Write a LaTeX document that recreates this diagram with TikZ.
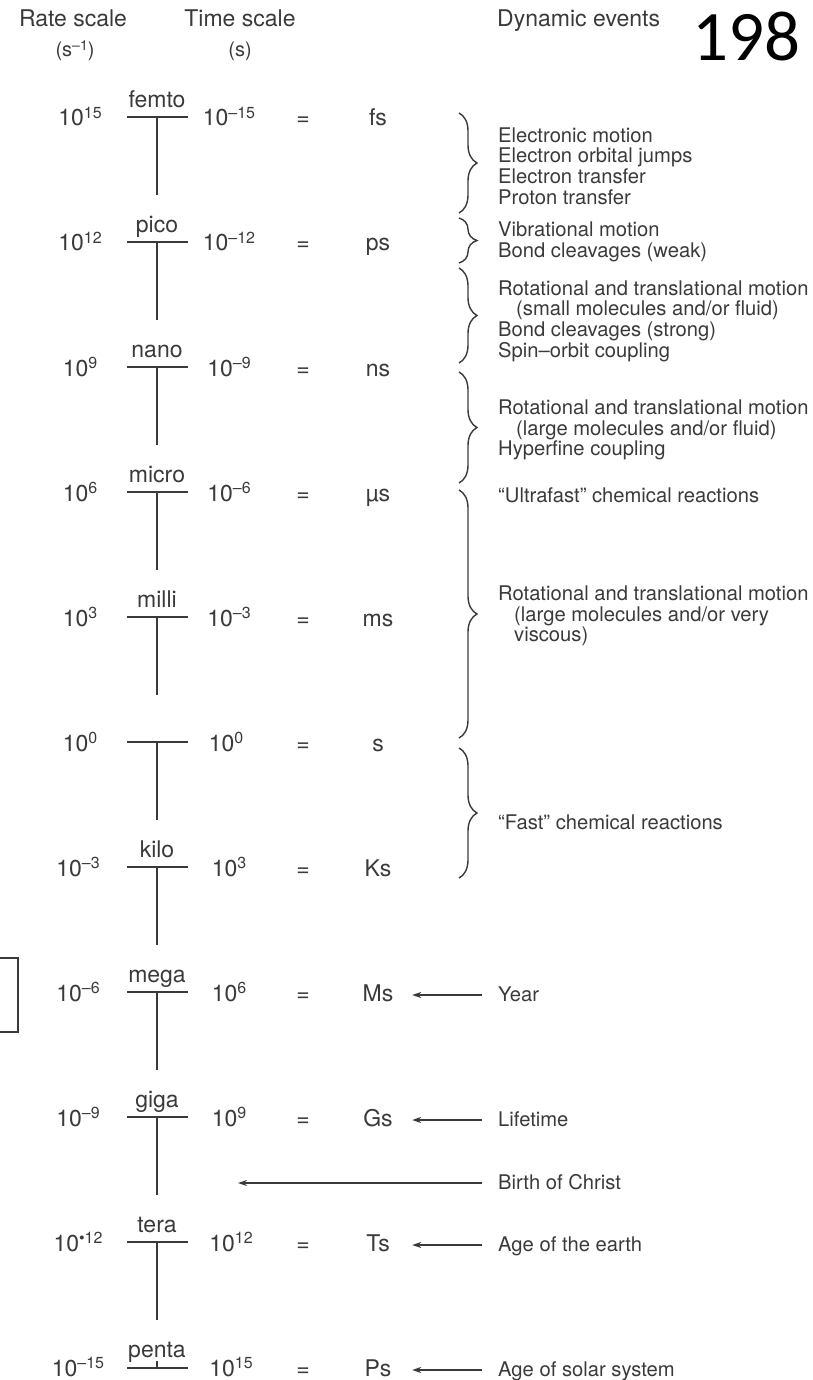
\documentclass[tikz,border=0pt]{standalone}
\usepackage{fontspec}
\setmainfont{TeX Gyre Heros}
\newfontfamily\pagefont{Carlito}
\usepackage{tikz}
\usetikzlibrary{arrows.meta, positioning, decorations.pathreplacing}
\definecolor{ink}{HTML}{3A3A3A}
\newcommand{\pw}[1]{\raisebox{7.5pt}{\fontsize{16}{16}\selectfont #1}}
\newcommand{\subpw}[1]{\raisebox{6pt}{\fontsize{14}{14}\selectfont #1}}
\tikzstyle{headtext} = [font=\fontsize{23}{25}\selectfont, text=ink, inner sep=0pt, anchor=base]
\tikzstyle{subhead} = [headtext, font=\fontsize{20}{22}\selectfont]
\tikzstyle{rowtext} = [font=\fontsize{23}{25}\selectfont, text=ink, inner sep=0pt,
    text height=17pt, text depth=5pt, anchor=base]
\tikzstyle{unittext} = [rowtext, minimum width=34pt]
\tikzstyle{eventtext} = [font=\fontsize{20.2}{20.7}\selectfont, text=ink, inner sep=0pt,
    align=left, anchor=west]
\tikzstyle{eventlabel} = [eventtext, text height=17pt, text depth=5pt]
\tikzstyle{tickline} = [line width=2.8pt, draw=ink]
\tikzstyle{bracket} = [line width=1.4pt, draw=ink, decorate, decoration={brace, amplitude=18pt}]
\tikzstyle{arrow} = [line width=1.4pt, draw=ink, -{Stealth[length=9pt, width=6pt]},
    shorten <=16pt, shorten >=17pt]

\begin{document}
\begin{tikzpicture}[x=1pt, y=-1pt]
    \useasboundingbox (0,0) rectangle (812,1380);

    \node [headtext] (rate) at (73,27) {Rate scale};
    \node [subhead] (ratesub) at (75,57) {(s\subpw{–1})};
    \node [headtext] (time) at (240,27) {Time scale};
    \node [subhead] (timesub) at (240,57) {(s)};
    \node [headtext, anchor=base west] (events) at (497,27) {Dynamic events};
    \node [anchor=base, inner sep=0pt, font=\pagefont\fontsize{71}{71}\selectfont] (pagenum) at (746,61) {198};

    \coordinate (bfemto) at (157,117);
    \coordinate (bpico) at (157,242);
    \coordinate (bnano) at (157,367);
    \coordinate (bmicro) at (157,492);
    \coordinate (bmilli) at (157,617);
    \coordinate (bone) at (157,742);
    \coordinate (bkilo) at (157,867);
    \coordinate (bmega) at (157,992);
    \coordinate (bgiga) at (157,1117);
    \coordinate (btera) at (157,1242);
    \coordinate (bpenta) at (157,1368);

    \draw [tickline] ([xshift=-30pt]bfemto) -- ([xshift=31pt]bfemto) (bfemto) -- ++(0,78);
    \draw [tickline] ([xshift=-30pt]bpico) -- ([xshift=31pt]bpico) (bpico) -- ++(0,78);
    \draw [tickline] ([xshift=-30pt]bnano) -- ([xshift=31pt]bnano) (bnano) -- ++(0,78);
    \draw [tickline] ([xshift=-30pt]bmicro) -- ([xshift=31pt]bmicro) (bmicro) -- ++(0,78);
    \draw [tickline] ([xshift=-30pt]bmilli) -- ([xshift=31pt]bmilli) (bmilli) -- ++(0,78);
    \draw [tickline] ([xshift=-30pt]bone) -- ([xshift=31pt]bone) (bone) -- ++(0,78);
    \draw [tickline] ([xshift=-30pt]bkilo) -- ([xshift=31pt]bkilo) (bkilo) -- ++(0,78);
    \draw [tickline] ([xshift=-30pt]bmega) -- ([xshift=31pt]bmega) (bmega) -- ++(0,78);
    \draw [tickline] ([xshift=-30pt]bgiga) -- ([xshift=31pt]bgiga) (bgiga) -- ++(0,78);
    \draw [tickline] ([xshift=-30pt]btera) -- ([xshift=31pt]btera) (btera) -- ++(0,78);
    \draw [tickline] ([xshift=-30pt]bpenta) -- ([xshift=31pt]bpenta) (bpenta) -- ++(0,-7);

    \node [rowtext, above=4pt of bfemto] (femto) {femto};
    \node [rowtext, above=4pt of bpico] (pico) {pico};
    \node [rowtext, above=4pt of bnano] (nano) {nano};
    \node [rowtext, above=4pt of bmicro] (micro) {micro};
    \node [rowtext, above=4pt of bmilli] (milli) {milli};
    \node [rowtext, above=4pt of bkilo] (kilo) {kilo};
    \node [rowtext, above=4pt of bmega] (mega) {mega};
    \node [rowtext, above=4pt of bgiga] (giga) {giga};
    \node [rowtext, above=4pt of btera] (tera) {tera};
    \node [rowtext, above=5pt of bpenta] (penta) {penta};

    \node [rowtext] (rfemto) at (80,126) {10\pw{15}};
    \node [rowtext] (tfemto) at (229,126) {10\pw{–15}};
    \node [rowtext] (efemto) at (303,126) {=};
    \node [unittext] (ufemto) at (378,126) {fs};

    \node [rowtext] (rpico) at (80,251) {10\pw{12}};
    \node [rowtext] (tpico) at (229,251) {10\pw{–12}};
    \node [rowtext] (epico) at (303,251) {=};
    \node [unittext] (upico) at (378,251) {ps};

    \node [rowtext] (rnano) at (80,376) {10\pw{9}};
    \node [rowtext] (tnano) at (229,376) {10\pw{–9}};
    \node [rowtext] (enano) at (303,376) {=};
    \node [unittext] (unano) at (378,376) {ns};

    \node [rowtext] (rmicro) at (80,501) {10\pw{6}};
    \node [rowtext] (tmicro) at (229,501) {10\pw{–6}};
    \node [rowtext] (emicro) at (303,501) {=};
    \node [unittext] (umicro) at (378,501) {µs};

    \node [rowtext] (rmilli) at (80,626) {10\pw{3}};
    \node [rowtext] (tmilli) at (229,626) {10\pw{–3}};
    \node [rowtext] (emilli) at (303,626) {=};
    \node [unittext] (umilli) at (378,626) {ms};

    \node [rowtext] (rone) at (80,751) {10\pw{0}};
    \node [rowtext] (tone) at (226,751) {10\pw{0}};
    \node [rowtext] (eone) at (303,751) {=};
    \node [unittext] (uone) at (378,751) {s};

    \node [rowtext] (rkilo) at (78,876) {10\pw{–3}};
    \node [rowtext] (tkilo) at (229,876) {10\pw{3}};
    \node [rowtext] (ekilo) at (303,876) {=};
    \node [unittext] (ukilo) at (378,876) {Ks};

    \node [rowtext] (rmega) at (78,1001) {10\pw{–6}};
    \node [rowtext] (tmega) at (229,1001) {10\pw{6}};
    \node [rowtext] (emega) at (303,1001) {=};
    \node [unittext] (umega) at (378,1001) {Ms};

    \node [rowtext] (rgiga) at (78,1126) {10\pw{–9}};
    \node [rowtext] (tgiga) at (229,1126) {10\pw{9}};
    \node [rowtext] (egiga) at (303,1126) {=};
    \node [unittext] (ugiga) at (378,1126) {Gs};

    \node [rowtext] (rtera) at (78,1251) {10\pw{•12}};
    \node [rowtext] (ttera) at (231,1251) {10\pw{12}};
    \node [rowtext] (etera) at (303,1251) {=};
    \node [unittext] (utera) at (378,1251) {Ts};

    \node [rowtext] (rpenta) at (78,1376) {10\pw{–15}};
    \node [rowtext] (tpenta) at (231,1376) {10\pw{15}};
    \node [rowtext] (epenta) at (303,1376) {=};
    \node [unittext] (upenta) at (378,1376) {Ps};

    \draw [bracket] (459,113) -- (459,213);
    \draw [bracket] (459,218) -- (459,263);
    \draw [bracket] (459,268) -- (459,363);
    \draw [bracket] (459,372) -- (459,483);
    \draw [bracket] (459,490) -- (459,738);
    \draw [bracket] (459,748) -- (459,878);

    \node [eventtext] (electronic) at (498,166) {Electronic motion\\Electron orbital jumps\\Electron transfer\\Proton transfer};
    \node [eventtext] (vibrational) at (498,242) {Vibrational motion\\Bond cleavages (weak)};
    \node [eventtext] (rotsmall) at (498,321) {Rotational and translational motion\\\hspace*{18pt}(small molecules and/or fluid)\\Bond cleavages (strong)\\Spin–orbit coupling};
    \node [eventtext] (rotlarge) at (498,430) {Rotational and translational motion\\\hspace*{18pt}(large molecules and/or fluid)\\Hyperfine coupling};
    \node [eventtext] (ultrafast) at (498,495) {“Ultrafast” chemical reactions};
    \node [eventtext] (rotviscous) at (498,616) {Rotational and translational motion\\\hspace*{16pt}(large molecules and/or very\\\hspace*{16pt}viscous)};
    \node [eventtext] (fast) at (498,822) {“Fast” chemical reactions};

    \node [eventlabel, anchor=base west] (year) at (498,1001) {Year};
    \node [eventlabel, anchor=base west] (lifetime) at (498,1126) {Lifetime};
    \node [eventlabel] (birth) at (498,1183) {Birth of Christ};
    \node [eventlabel, anchor=base west] (earth) at (498,1251) {Age of the earth};
    \node [eventlabel, anchor=base west] (solar) at (498,1376) {Age of solar system};
    \coordinate (christ) at (238,1183);

    \draw [arrow] (year) -- (umega);
    \draw [arrow] (lifetime) -- (ugiga);
    \draw [arrow, shorten >=0pt] (birth) -- (christ);
    \draw [arrow] (earth) -- (utera);
    \draw [arrow] (solar) -- (upenta);

    \draw [tickline, line width=1.8pt] (-4,958) -| (18,1032) -- (-4,1032);
\end{tikzpicture}
\end{document}
